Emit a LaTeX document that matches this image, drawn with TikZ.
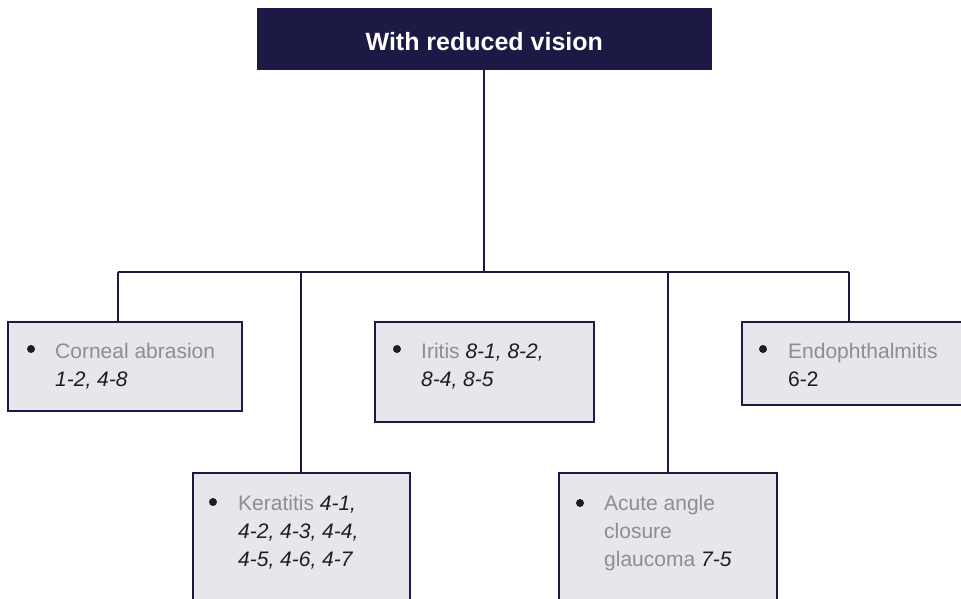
\documentclass[tikz,border=0pt]{standalone}
\usepackage{fontspec}
\setmainfont{Liberation Sans}
\definecolor{navy}{HTML}{1C1A45}
\definecolor{boxfill}{HTML}{E7E6EB}
\definecolor{lite}{HTML}{8E8E8E}
\definecolor{refc}{HTML}{1E1E1E}
\newcommand{\lt}[1]{\textcolor{lite}{#1}}
\newcommand{\rf}[1]{\textcolor{refc}{\itshape #1}}
\tikzset{
  box/.style={draw=navy, line width=1.8pt, fill=boxfill, anchor=north west, inner sep=0pt},
  topbox/.style={draw=navy, line width=1.5pt, fill=navy, anchor=north west, inner sep=0pt,
     minimum width=453, minimum height=60, text=white,
     font=\fontsize{25}{30}\selectfont\bfseries, text height=24, text depth=0},
  conn/.style={draw=navy, line width=2pt},
  txt/.style={anchor=north west, inner sep=0pt, align=left, font=\fontsize{21}{28}\selectfont},
  bul/.style={circle, fill=refc, minimum size=8, inner sep=0pt}
}
\begin{document}
\begin{tikzpicture}[x=1pt,y=-1pt]
\path[use as bounding box, clip] (0,0) rectangle (961,598);
\fill[white] (0,0) rectangle (961,598);
% boxes
\node[topbox] (top) at (257,8) {With reduced vision};
\node[box, minimum width=234, minimum height=89] (corneal) at (7,321) {};
\node[box, minimum width=217, minimum height=150] (kerat) at (192,472) {};
\node[box, minimum width=219, minimum height=100] (iritis) at (374,321) {};
\node[box, minimum width=218, minimum height=150] (acute) at (558,472) {};
\node[box, minimum width=240, minimum height=83] (endo) at (741,321) {};
% connectors
\coordinate (jc) at (484,272);
\coordinate (jl) at (118,272);
\coordinate (jr) at (849,272);
\coordinate (jk) at (301,272);
\coordinate (ja) at (668,272);
\draw[conn] (jc |- top.south) -- (jc);
\draw[conn] (jl) -- (jr);
\draw[conn] (jl) -- (jl |- corneal.north);
\draw[conn] (jk) -- (jk |- kerat.north);
\draw[conn] (ja) -- (ja |- acute.north);
\draw[conn] (jr) -- (jr |- endo.north);
% bullets
\node[bul] (b1) at (31,349) {};
\node[bul] (b2) at (213,502) {};
\node[bul] (b3) at (397,349) {};
\node[bul] (b4) at (580,503) {};
\node[bul] (b5) at (763,349) {};
% texts
\node[txt] (t1) at (55,338.4) {\strut\lt{Corneal abrasion}\\\rf{1-2, 4-8}};
\node[txt] (t2) at (238,490.4) {\strut\lt{Keratitis} \rf{4-1,}\\\rf{4-2, 4-3, 4-4,}\\\rf{4-5, 4-6, 4-7}};
\node[txt] (t3) at (421,338.4) {\strut\lt{Iritis} \rf{8-1, 8-2,}\\\rf{8-4, 8-5}};
\node[txt] (t4) at (604,490.4) {\strut\lt{Acute angle}\\\lt{closure}\\\lt{glaucoma} \rf{7-5}};
\node[txt] (t5) at (788,338.4) {\strut\lt{Endophthalmitis}\\\textcolor{refc}{6-2}};
\end{tikzpicture}
\end{document}
